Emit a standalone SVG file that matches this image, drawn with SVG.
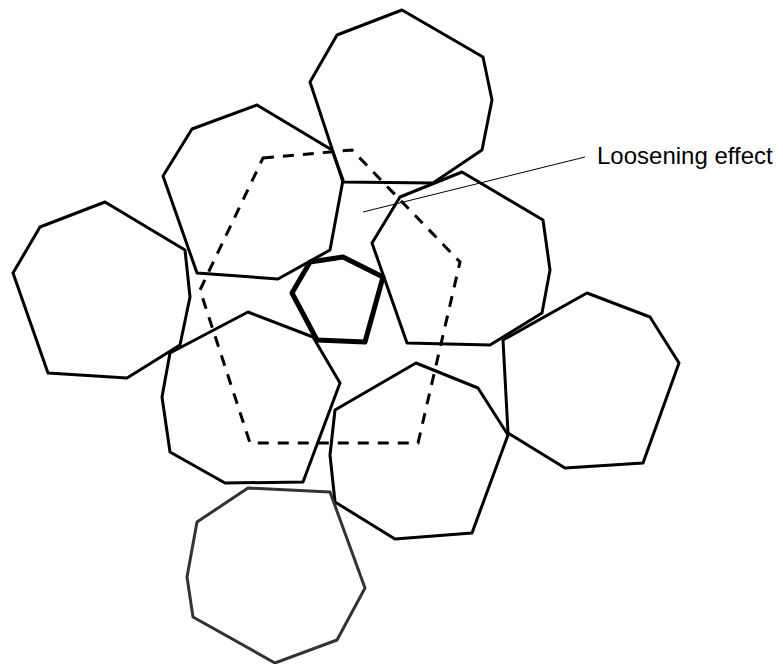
<svg xmlns="http://www.w3.org/2000/svg" width="783" height="664" viewBox="0 0 783 664">
<style>
.p{fill:none;stroke:#000;stroke-width:3;stroke-linejoin:round}
.g{fill:none;stroke:#333;stroke-width:3;stroke-linejoin:round}
.c{fill:none;stroke:#000;stroke-width:5;stroke-linejoin:round}
.d{fill:none;stroke:#000;stroke-width:3;stroke-dasharray:11 9}
.l{fill:none;stroke:#000;stroke-width:1}
.t{font-family:"Liberation Sans",Arial,sans-serif;font-size:24px;fill:#000}
</style>
<rect width="783" height="664" fill="#fff"/>
<g id="grain-top"><polygon class="p" points="402,10 483,57 492,100 482,150 433,183 343,182 310,82 337,35"/></g>
<g id="grain-upper-left"><polygon class="p" points="257,105 332,150 343,180 330,250 278,279 197,273 163,176 192,129"/></g>
<g id="grain-far-left"><polygon class="p" points="105,202 185,250 190,297 180,345 127,378 48,373 13,273 40,227"/></g>
<g id="grain-right"><polygon class="p" points="462,172 543,220 550,270 542,313 490,345 407,343 372,243 400,197"/></g>
<g id="grain-far-right"><polygon class="p" points="587,293 650,317 679,363 643,463 565,468 508,433 503,340"/></g>
<g id="grain-lower-left"><polygon class="p" points="248,312 313,337 340,383 303,482 225,483 170,452 162,397 170,353"/></g>
<g id="grain-lower"><polygon class="p" points="416,363 478,388 508,435 472,533 395,539 335,502 330,455 335,410"/></g>
<g id="grain-bottom"><polygon class="g" points="248,488 330,492 365,588 337,640 275,663 193,617 187,577 197,522"/></g>
<g id="grain-center"><polygon class="c" points="310,262 343,257 383,277 365,342 317,340 292,293"/></g>
<g id="outline-dashed"><polygon class="d" points="263,158 352,150 460,262 418,443 250,443 200,290"/></g>
<g id="connectors"><line class="l" x1="585" y1="157" x2="363" y2="212"/></g>
<g id="label"><text class="t" x="597" y="164">Loosening effect</text></g>
</svg>
